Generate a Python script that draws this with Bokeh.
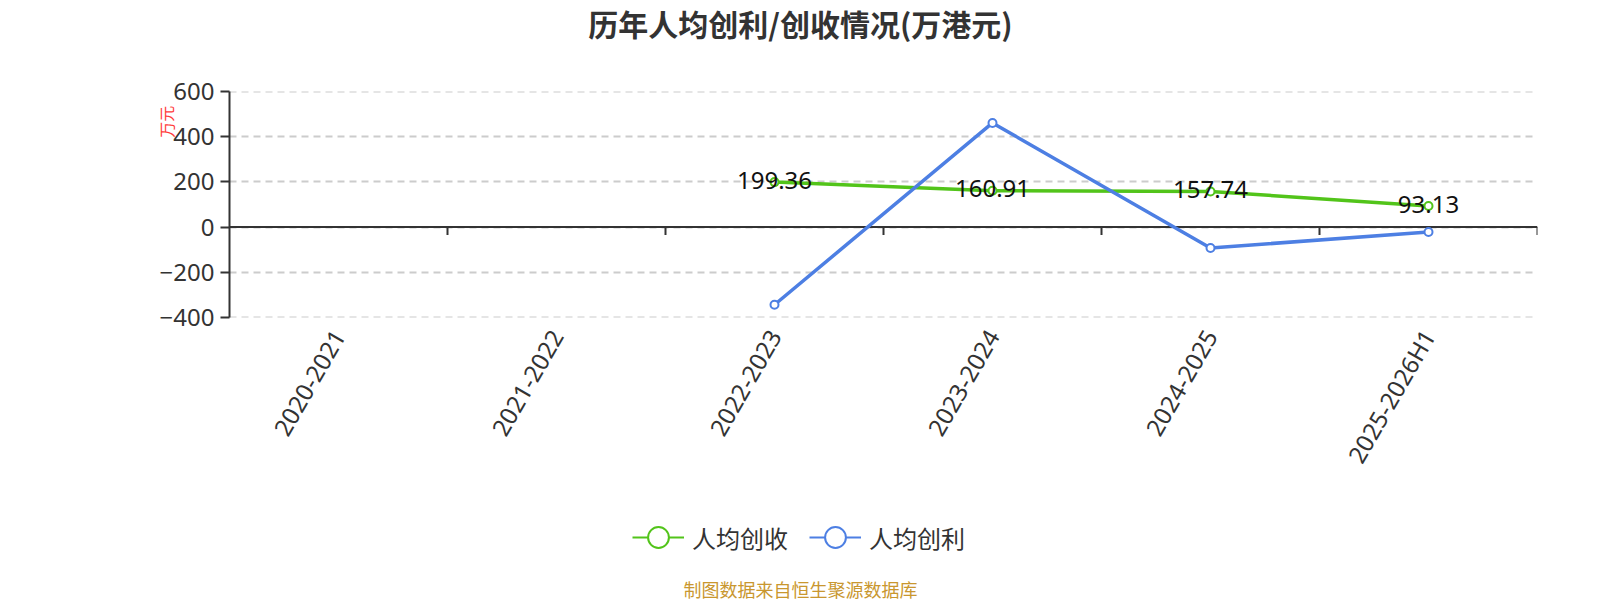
import math
from bokeh.plotting import figure
from bokeh.layouts import column
from bokeh.models import (FactorRange, Range1d, FixedTicker, Label, Legend, LegendItem,
                          Span, ColumnDataSource, LinearAxis)
from bokeh.core.properties import value
from bokeh.embed import file_html
from bokeh.resources import INLINE

nan = float("nan")
categories = ["2020-2021", "2021-2022", "2022-2023", "2023-2024", "2024-2025", "2025-2026H1"]
revenue_per_capita = [nan, nan, 199.36, 160.91, 157.74, 93.13]   # 人均创收
profit_per_capita = [nan, nan, -345.0, 462.0, -93.0, -22.0]      # 人均创利
y_ticks = [-400, -200, 0, 200, 400, 600]

title_text = "历年人均创利/创收情况(万港元)"
y_name = "万元"
legend_names = ["人均创收", "人均创利"]
footer_text = "制图数据来自恒生聚源数据库"

GREEN = "#52c41a"
BLUE = "#4d7fe3"
DARK = "#333333"
CJK = "Noto Sans CJK SC"
LAT = "Noto Sans"

W = 1600
LEFT, RIGHT = 229, 63          # frame: x 229 .. 1537
HT, HA, HB = 46, 444, 110      # title strip, chart, legend/footer strip
FRAME_TOP, FRAME_BOTTOM = 91, 317


def strip(height):
    f = figure(width=W, height=height, x_range=Range1d(LEFT, W - RIGHT), y_range=Range1d(0, height),
               x_axis_type=None, y_axis_type=None, output_backend="svg", toolbar_location=None,
               min_border_left=LEFT, min_border_right=RIGHT, min_border_top=0, min_border_bottom=0)
    f.outline_line_color = None
    f.grid.visible = False
    f.background_fill_color = "white"
    f.border_fill_color = "white"
    return f


# ---------------- title strip ----------------
t = strip(HT)
t.add_layout(Label(x=800, y=HT - 22, text=title_text, text_align="center", text_baseline="middle",
                   text_font=CJK, text_font_size="30px", text_font_style="bold", text_color=DARK))

# ---------------- main chart ----------------
top_border = FRAME_TOP - HT
p = figure(width=W, height=HA, x_range=FactorRange(factors=categories),
           y_range=Range1d(-401.5, 601.5), output_backend="svg", toolbar_location=None,
           min_border_left=LEFT, min_border_right=RIGHT, min_border_top=top_border,
           min_border_bottom=HA - top_border - (FRAME_BOTTOM - FRAME_TOP))
p.outline_line_color = None
p.background_fill_color = "white"
p.border_fill_color = "white"
p.title.visible = False

# grid
p.xgrid.grid_line_color = None
p.ygrid.ticker = FixedTicker(ticks=y_ticks)
p.ygrid.grid_line_color = "#cccccc"
p.ygrid.grid_line_width = 2
p.ygrid.grid_line_dash = "7 5"

# y axis
ya = p.yaxis[0]
ya.ticker = FixedTicker(ticks=y_ticks)
ya.bounds = (-400, 600)
ya.axis_line_color = DARK
ya.axis_line_width = 2
ya.major_tick_line_color = DARK
ya.major_tick_line_width = 2
ya.major_tick_out = 9
ya.major_tick_in = 0
ya.minor_tick_line_color = None
ya.major_label_text_font = LAT
ya.major_label_text_font_size = "24px"
ya.major_label_text_color = DARK
ya.major_label_standoff = 6

# unit name shown as a label of a second, bare left axis
name_axis = LinearAxis(ticker=FixedTicker(ticks=[467]), major_label_overrides={467: y_name},
                       axis_line_color=None, major_tick_line_color=None,
                       minor_tick_line_color=None, major_tick_out=0,
                       major_label_orientation="vertical", major_label_standoff=-22,
                       major_label_text_font=CJK, major_label_text_font_size="16px",
                       major_label_text_color="#ff3b3b")
p.add_layout(name_axis, "left")

# x axis (labels only at bottom)
xa = p.xaxis[0]
xa.axis_line_color = None
xa.major_tick_line_color = None
xa.minor_tick_line_color = None
xa.major_label_orientation = math.pi / 3
xa.major_label_text_font = LAT
xa.major_label_text_font_size = "24px"
xa.major_label_text_color = DARK
xa.major_label_standoff = 8

# zero axis line with boundary ticks
p.add_layout(Span(location=0, dimension="width", line_color=DARK, line_width=2, level="underlay"))
bounds = list(range(1, len(categories) + 1))
p.ray(x=bounds, y=[0] * len(bounds), length=8, length_units="screen", angle=-math.pi / 2,
      line_color=DARK, line_width=2)

src = ColumnDataSource(dict(x=categories, rev=revenue_per_capita, prof=profit_per_capita,
                            lab=["" if math.isnan(v) else f"{v:.2f}" for v in revenue_per_capita]))

p.line("x", "rev", source=src, line_color=GREEN, line_width=3.5)
p.scatter("x", "rev", source=src, size=8, line_color=GREEN, line_width=2, fill_color="white")
p.line("x", "prof", source=src, line_color=BLUE, line_width=3.5)
p.scatter("x", "prof", source=src, size=8, line_color=BLUE, line_width=2, fill_color="white")

p.text("x", "rev", text="lab", source=src, text_align="center", text_baseline="middle",
       y_offset=-2, text_font=value(LAT), text_font_size="24px", text_color="#111111")

# ---------------- legend + footer strip ----------------
q = strip(HB)
far = dict(x=[-1000], y=[-1000])
items = []
for name, col in zip(legend_names, [GREEN, BLUE]):
    lr = q.line(x="x", y="y", source=ColumnDataSource(far), line_color=col, line_width=2)
    sr = q.scatter(x="x", y="y", source=ColumnDataSource(far), size=20, line_color=col,
                   line_width=2, fill_color="white")
    items.append((name, [lr, sr]))

for (name, rends), lx in zip(items, [634, 811]):
    lg = Legend(items=[LegendItem(label=value(name), renderers=rends)],
                location=(lx - LEFT - 2, 63 - 28), orientation="horizontal",
                glyph_width=52, glyph_height=56, label_standoff=8, padding=0, margin=0,
                spacing=0, background_fill_alpha=0, border_line_alpha=0,
                label_text_font=CJK, label_text_font_size="24px", label_text_color=DARK,
                label_text_baseline="middle")
    q.add_layout(lg, "center")

q.add_layout(Label(x=800, y=HB - (588 - (HT + HA)), text=footer_text,
                   text_align="center", text_baseline="middle", text_font=CJK,
                   text_font_size="18px", text_color="#c9972f"))

layout = column(t, p, q, spacing=0)
open("out.html", "w").write(file_html(layout, INLINE))
